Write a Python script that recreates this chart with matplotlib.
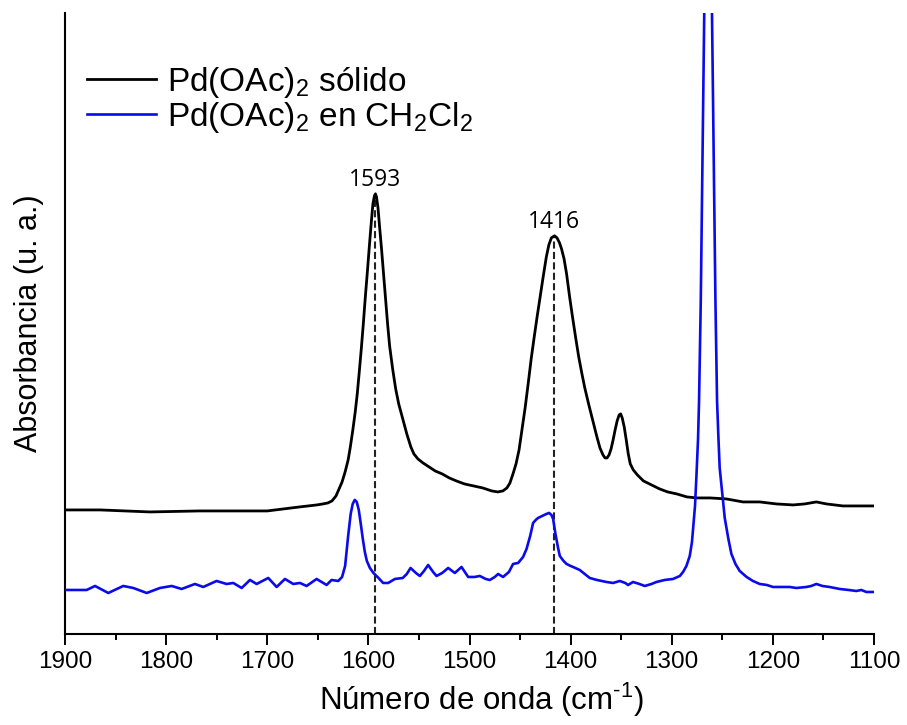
import matplotlib
matplotlib.use("Agg")
import matplotlib.pyplot as plt

plt.rcParams["font.family"] = ["Liberation Sans", "DejaVu Sans"]
plt.rcParams["mathtext.fontset"] = "custom"
plt.rcParams["mathtext.rm"] = "Liberation Sans"
plt.rcParams["mathtext.it"] = "Liberation Sans:italic"
plt.rcParams["mathtext.bf"] = "Liberation Sans:bold"

# FTIR spectrum of solid Pd(OAc)2 (absorbance, arbitrary units)
solid_wn = [1900, 1865, 1816, 1767, 1717, 1700, 1684, 1668, 1651, 1645, 1640,
            1636, 1632, 1629, 1626, 1623, 1620, 1618, 1615.5, 1613, 1611, 1609,
            1607, 1605, 1603, 1601, 1599, 1597, 1595.5, 1594, 1593, 1592,
            1590.5, 1589, 1587, 1585, 1583, 1581, 1579, 1576, 1573, 1570, 1566,
            1562, 1558, 1555, 1551, 1546, 1540, 1534, 1527, 1520, 1513, 1505,
            1496, 1487, 1478, 1472, 1467, 1463, 1460, 1457, 1454, 1451, 1448,
            1445, 1442, 1439, 1436, 1433, 1430, 1427, 1424, 1421.5, 1419,
            1416, 1413.5, 1411, 1409, 1406.5, 1404, 1401, 1398, 1395, 1392,
            1389, 1386, 1382, 1378, 1374, 1371, 1368, 1366, 1364, 1362, 1360,
            1358, 1356, 1354, 1352, 1350.5, 1349, 1347, 1345, 1343, 1341, 1338,
            1334, 1328, 1320, 1312, 1304, 1295, 1285, 1275, 1262, 1246, 1229.5,
            1213, 1196.5, 1180, 1168.6, 1157, 1147, 1130.7, 1114, 1100]
solid_abs = [124, 124, 122, 123, 123, 123, 125, 127, 129, 130, 131,
             133, 138, 145, 152, 162, 174, 186, 203, 222, 240, 262,
             285, 310, 337, 362, 388, 413, 430, 438, 440, 437,
             426, 408, 385, 360, 335, 310, 288, 265, 245, 230, 215,
             200, 187, 180, 175, 171, 167, 163, 160, 156, 153, 150,
             148, 146, 143, 142, 143, 146, 151, 160, 170, 184, 205,
             226, 250, 275, 297, 318, 338, 358, 377, 389, 396,
             398, 396, 391, 385, 375, 360, 337, 316, 296, 277,
             261, 246, 229, 213, 197, 186, 179, 176, 176, 179, 185,
             194, 204, 213, 219, 220, 216, 207, 194, 180, 170, 164,
             159, 153, 149, 145, 142, 140, 137, 136, 136, 135, 132,
             132, 130, 129, 130, 132, 130, 128, 128, 128]

# FTIR spectrum of Pd(OAc)2 dissolved in CH2Cl2
sol_wn = [1900, 1891, 1878.6, 1870.3, 1857.2, 1842.4, 1832.5, 1819.2, 1806.1,
          1794.5, 1784.7, 1771.5, 1763.3, 1750.1, 1740.2, 1733.6, 1725.3,
          1717.1, 1710.5, 1699, 1690.7, 1682.5, 1674.3, 1667.7, 1661.1,
          1651.2, 1641.3, 1636.4, 1629.8, 1626, 1623, 1620, 1617.5, 1615.5,
          1613.5, 1611.5, 1609.5, 1607.5, 1605.5, 1603.5, 1601.5, 1598.5,
          1595, 1590, 1585.4, 1580.4, 1573.8, 1566, 1562, 1558.3, 1553,
          1549.1, 1545, 1540.9, 1536, 1532.6, 1527, 1521.1, 1514.5, 1507.9,
          1501.3, 1495, 1489.8, 1484, 1479.9, 1475, 1471.7, 1466.8, 1461,
          1456.9, 1451.9, 1447, 1443.6, 1440, 1437.1, 1434.5, 1432.2, 1428,
          1423.9, 1421.3, 1419, 1417.3, 1415, 1412.4, 1410.7, 1407, 1404,
          1400, 1397.6, 1391, 1386, 1381.1, 1374, 1364.6, 1358, 1351.4,
          1346, 1343.2, 1338.3, 1332, 1326.7, 1320, 1315.1, 1307, 1298.7,
          1292, 1288.8, 1285.5, 1282.2, 1280, 1278.5, 1277, 1275.5, 1274,
          1273, 1271.3, 1267.8, 1266, 1264, 1262, 1260.2, 1256.8, 1255.2,
          1253.8, 1252.6, 1250, 1247.6, 1244, 1241, 1237, 1232.8, 1226,
          1219.7, 1213, 1206, 1199.9, 1191, 1183.4, 1176.8, 1166.9, 1162,
          1157, 1151, 1143.9, 1133.9, 1125, 1117.5, 1112.5, 1107.6, 1100]
sol_abs = [44, 44, 44, 48, 41, 48, 46, 41, 46,
           48, 45, 50, 47, 53, 50, 51, 46,
           54, 50, 56, 47, 55, 50, 51, 48,
           55, 49, 54, 53, 57, 68, 98, 120, 130,
           134, 132, 124, 110, 95, 82, 73, 66,
           61, 56, 51, 51, 55, 56, 60, 66, 61,
           58, 63, 69, 62, 58, 61, 66, 61, 67,
           57, 57, 58, 55, 54, 57, 60, 57, 62,
           70, 71, 77, 85, 98, 111, 114, 116, 118,
           120, 121, 119, 115, 100, 86, 78, 73, 70,
           68, 67, 64, 60, 56, 54, 52, 51, 53,
           51, 49, 52, 50, 48, 50, 52, 54, 55,
           58, 62, 68, 78, 92, 110, 128, 160, 195,
           233, 333, 620, 867, 1030, 867, 620, 333, 233,
           195, 166, 140, 116, 95, 80, 70, 63, 57,
           53, 50, 49, 47, 47, 47, 46, 47, 48,
           50, 48, 47, 45, 44, 43, 44, 42, 42]

peak_wn = [1593, 1416]
peak_abs = [440, 398]
peak_labels = ["1593", "1416"]

series_labels = [r"Pd(OAc)$_\mathregular{2}$ sólido",
                 r"Pd(OAc)$_\mathregular{2}$ en CH$_\mathregular{2}$Cl$_\mathregular{2}$"]

fig = plt.figure(figsize=(9.07, 7.25), dpi=100)
ax = fig.add_axes([65 / 907, 91 / 725, 809 / 907, 621.3 / 725])

ax.plot(solid_wn, solid_abs, color="black", lw=2.0, label=series_labels[0],
        zorder=3, solid_joinstyle="round")
ax.plot(sol_wn, sol_abs, color="#0a0aeb", lw=1.9, label=series_labels[1],
        zorder=4, solid_joinstyle="round")

ax.vlines(peak_wn, 0, peak_abs, colors="#222222", lw=1.5,
          linestyles=[(0, (3.4, 1.6))], zorder=2)
for wn, a, lab in zip(peak_wn, peak_abs, peak_labels):
    ax.annotate(lab, (wn, a), xytext=(0, 5.8), textcoords="offset points",
                ha="center", va="baseline", fontsize=16.5,
                family=["Open Sans", "DejaVu Sans"])

ax.set_xlim(1900, 1100)
ax.set_ylim(0, 621)
ax.set_xticks([1900, 1800, 1700, 1600, 1500, 1400, 1300, 1200, 1100])
ax.set_xticks(range(1850, 1100, -100), minor=True)
ax.set_yticks([])

for side in ("top", "right"):
    ax.spines[side].set_visible(False)
for side in ("left", "bottom"):
    ax.spines[side].set_linewidth(1.5)

ax.tick_params(axis="x", which="major", direction="out", length=8, width=1.4,
               labelsize=17.5, pad=4)
ax.tick_params(axis="x", which="minor", direction="out", length=4, width=1.4)

ax.set_xlabel("Número de onda (cm$^\\mathregular{\u2010 1}$)", fontsize=22.5)
ax.xaxis.set_label_coords(0.515, -0.075)
ax.xaxis.label.set_va("top")
ax.set_ylabel("Absorbancia (u. a.)", fontsize=22)
ax.yaxis.set_label_coords(-0.026, 0.5)

ax.legend(loc="upper left", bbox_to_anchor=(0.027, 0.916), frameon=False,
          fontsize=24, handlelength=2.07, handletextpad=0.33,
          labelspacing=0.0, borderaxespad=0, borderpad=0)

fig.savefig("out.png", dpi=100)
